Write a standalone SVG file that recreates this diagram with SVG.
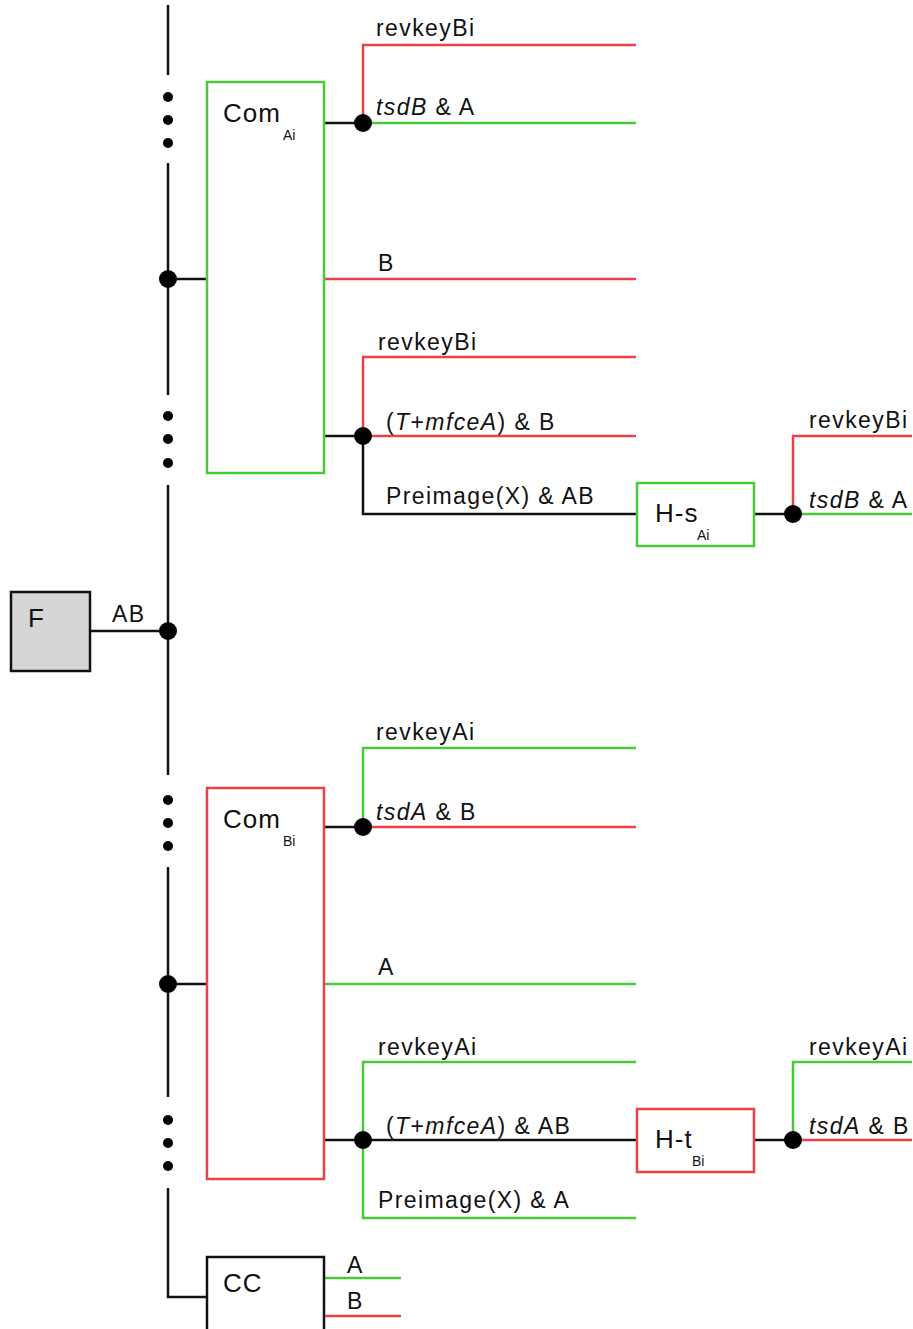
<svg xmlns="http://www.w3.org/2000/svg" width="913" height="1329" viewBox="0 0 913 1329">
<style>
text{font-family:"Liberation Sans",Arial,sans-serif;font-size:23px;letter-spacing:1.4px;fill:#111}
.sub{font-size:14px;letter-spacing:0}
.big{font-size:26px;letter-spacing:1px}
.k{stroke:#111;stroke-width:2.5;fill:none}
.r{stroke:#e8434a;stroke-width:2.5;fill:none}
.g{stroke:#4cc93a;stroke-width:2.5;fill:none}
.dot{fill:#000}
</style>
<rect width="913" height="1329" fill="#fff"/>
<g id="connectors">
<path class="k" d="M168 5V75M168 163V395M168 485V775M168 867V1097M168 1188V1297H207"/>
<path class="k" d="M90 631H168"/>
<path class="k" d="M168 279H207M168 984H207"/>
<path class="k" d="M324 123H363M324 436H363M363 436V514H637M754 514H793"/>
<path class="k" d="M324 827H363M324 1140H363H637M754 1140H793"/>
<path class="r" d="M363 123V45H636M363 436V357H636M363 436H636M324 279H636M793 514V436H912"/>
<path class="g" d="M363 123H636M793 514H912"/>
<path class="g" d="M363 827V748H636M363 1140V1062H636M363 1140V1218H636M324 984H636M793 1140V1062H912"/>
<path class="r" d="M363 827H636M793 1140H912"/>
<path class="g" d="M324 1278H401"/>
<path class="r" d="M324 1316H401"/>
<g class="dot">
<circle cx="168" cy="97" r="5"/><circle cx="168" cy="120" r="5"/><circle cx="168" cy="143" r="5"/>
<circle cx="168" cy="416" r="5"/><circle cx="168" cy="439" r="5"/><circle cx="168" cy="463" r="5"/>
<circle cx="168" cy="800" r="5"/><circle cx="168" cy="823" r="5"/><circle cx="168" cy="846" r="5"/>
<circle cx="168" cy="1120" r="5"/><circle cx="168" cy="1143" r="5"/><circle cx="168" cy="1166" r="5"/>
<circle cx="168" cy="279" r="9"/><circle cx="168" cy="631" r="9"/><circle cx="168" cy="984" r="9"/>
<circle cx="363" cy="123" r="9"/><circle cx="363" cy="436" r="9"/><circle cx="793" cy="514" r="9"/>
<circle cx="363" cy="827" r="9"/><circle cx="363" cy="1140" r="9"/><circle cx="793" cy="1140" r="9"/>
</g>
<text x="376" y="36">revkeyBi</text>
<text x="376" y="115"><tspan font-style="italic">tsdB</tspan> &amp; A</text>
<text x="378" y="271">B</text>
<text x="378" y="350">revkeyBi</text>
<text x="386" y="430">(<tspan font-style="italic">T</tspan>+<tspan font-style="italic">mfceA</tspan>) &amp; B</text>
<text x="386" y="504">Preimage(X) &amp; AB</text>
<text x="809" y="428">revkeyBi</text>
<text x="809" y="508"><tspan font-style="italic">tsdB</tspan> &amp; A</text>
<text x="112" y="622">AB</text>
<text x="376" y="740">revkeyAi</text>
<text x="376" y="820"><tspan font-style="italic">tsdA</tspan> &amp; B</text>
<text x="378" y="975">A</text>
<text x="378" y="1055">revkeyAi</text>
<text x="386" y="1134">(<tspan font-style="italic">T</tspan>+<tspan font-style="italic">mfceA</tspan>) &amp; AB</text>
<text x="378" y="1208">Preimage(X) &amp; A</text>
<text x="809" y="1055">revkeyAi</text>
<text x="809" y="1134"><tspan font-style="italic">tsdA</tspan> &amp; B</text>
<text x="347" y="1273">A</text>
<text x="347" y="1309">B</text>
</g>
<g id="F"><rect x="11" y="592" width="79" height="79" fill="#d6d6d6" stroke="#111" stroke-width="2.5"/><text class="big" x="28" y="627">F</text></g>
<g id="ComAi"><rect x="207" y="82" width="117" height="391" fill="none" stroke="#4cc93a" stroke-width="2.5"/><text class="big" x="223" y="122">Com</text><text class="sub" x="283" y="140">Ai</text></g>
<g id="HsAi"><rect x="637" y="483" width="117" height="63" fill="#fff" stroke="#4cc93a" stroke-width="2.5"/><text class="big" x="655" y="522">H-s</text><text class="sub" x="697" y="540">Ai</text></g>
<g id="ComBi"><rect x="207" y="788" width="117" height="391" fill="none" stroke="#e8434a" stroke-width="2.5"/><text class="big" x="223" y="828">Com</text><text class="sub" x="283" y="846">Bi</text></g>
<g id="HtBi"><rect x="637" y="1109" width="117" height="63" fill="#fff" stroke="#e8434a" stroke-width="2.5"/><text class="big" x="655" y="1148">H-t</text><text class="sub" x="692" y="1166">Bi</text></g>
<g id="CC"><rect x="207" y="1257" width="117" height="80" fill="#fff" stroke="#111" stroke-width="2.5"/><text class="big" x="223" y="1292">CC</text></g>
</svg>
